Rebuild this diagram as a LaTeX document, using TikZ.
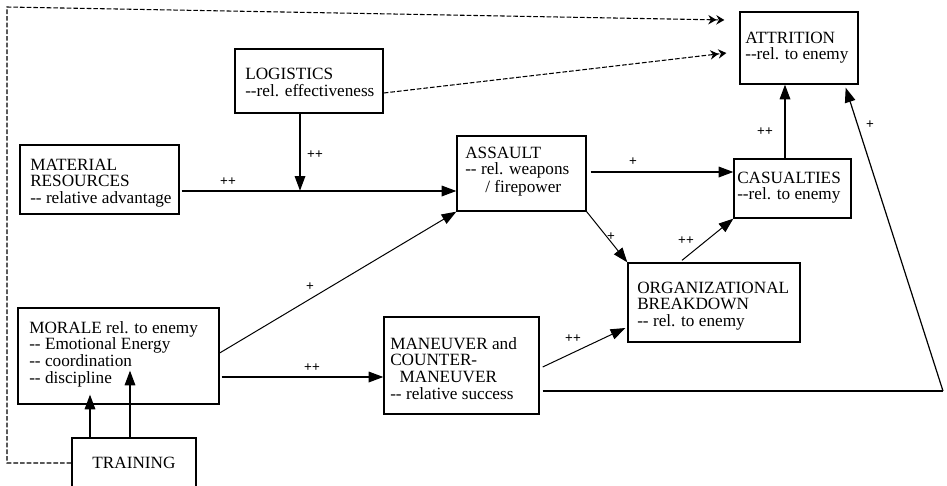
\documentclass[tikz,border=0pt]{standalone}
\usepackage{fontspec}
\setmainfont{Liberation Serif}[Ligatures=TeXOff]
\newfontfamily\boxfont{Liberation Serif}[Ligatures=TeXOff]
\newfontfamily\lblfont{Liberation Sans}[Ligatures=TeXOff]
\usetikzlibrary{arrows.meta,calc}
\begin{document}
\begin{tikzpicture}[x=0.75pt,y=-0.75pt,
  bx/.style 2 args={draw, line width=1pt, inner sep=0pt, rectangle,
    minimum width=#1*0.75pt, minimum height=#2*0.75pt},
  txt/.style={anchor=base west, inner sep=0pt, font=\boxfont\fontsize{12.9}{12.5}\selectfont},
  arr/.style={line width=0.9pt, -{Triangle[length=11pt,width=8pt]}},
  plain/.style={line width=0.9pt},
  lbl/.style={inner sep=0pt, font=\lblfont\fontsize{10}{10}\selectfont},
  dsh/.style={line width=0.8pt, dash pattern=on 3.5pt off 1.5pt,
    -{Stealth[length=6pt,width=7pt]Stealth[length=6pt,width=7pt]}},
  dshl/.style={line width=0.8pt, dash pattern=on 3.5pt off 1.5pt}]
\useasboundingbox (0,0) rectangle (947,486);
\clip (0,0) rectangle (947,486);
\fill[white] (0,0) rectangle (947,486);

% boxes
\node[bx={148}{64}] (log) at (309,81) {};
\node[bx={159}{69}] (mr) at (99.5,179.5) {};
\node[bx={118}{72}] (att) at (799,48) {};
\node[bx={129}{75}] (asl) at (521.5,173.5) {};
\node[bx={117}{59}] (cas) at (792.5,188.5) {};
\node[bx={201}{96}] (mor) at (118.5,356) {};
\node[bx={155}{97}] (man) at (461.5,365.5) {};
\node[bx={172}{79}] (org) at (714,302.5) {};
\node[bx={124}{70}] (trn) at (134,473) {};

% texts
\node[txt] (logt) at (245,79) {\begin{tabular}[t]{@{}l@{}}LOGISTICS\\--rel. effectiveness\end{tabular}};
\node[txt] (mrt) at (30,170) {\begin{tabular}[t]{@{}l@{}}MATERIAL\\RESOURCES\\-- relative advantage\end{tabular}};
\node[txt] (attt) at (745,43) {\begin{tabular}[t]{@{}l@{}}ATTRITION\\--rel. to enemy\end{tabular}};
\node[txt] (aslt) at (465,158) {\begin{tabular}[t]{@{}l@{}}ASSAULT\\-- rel. weapons\\\hspace*{15pt}/ firepower\end{tabular}};
\node[txt] (cast) at (737,183) {\begin{tabular}[t]{@{}l@{}}CASUALTIES\\--rel. to enemy\end{tabular}};
\node[txt] (mort) at (29,333) {\begin{tabular}[t]{@{}l@{}}MORALE rel. to enemy\\-- Emotional Energy\\-- coordination\\-- discipline\end{tabular}};
\node[txt] (mant) at (390,349) {\begin{tabular}[t]{@{}l@{}}MANEUVER and\\COUNTER-\\\hspace*{7pt}MANEUVER\\-- relative success\end{tabular}};
\node[txt] (orgt) at (637,293) {\begin{tabular}[t]{@{}l@{}}ORGANIZATIONAL\\BREAKDOWN\\-- rel. to enemy\end{tabular}};
\node[txt, anchor=base] (trnt) at (134,468) {TRAINING};

% connectors
\coordinate (j) at ($(log.south)+(-9,77)$);
\coordinate (rc) at (943,391);
\coordinate (dl) at (7,463);
\coordinate (dt) at (7,7);
\draw[arr] ($(mr.east)+(2,11.5)$) -- ($(asl.west)+(0,17.5)$);
\draw[arr] ($(log.south)+(-9,0)$) -- (j);
\draw[arr] ($(asl.east)+(4,-1.5)$) -- ($(cas.west)+(0,-16.5)$);
\draw[arr] ($(cas.north)+(-7.5,0)$) -- ($(att.south)+(-14,0)$);
\draw[plain] ($(man.east)+(3,25.5)$) -- (rc);
\draw[arr] (rc) -- ($(att.south east)+(-13,3)$);
\draw[arr] ($(mor.east)+(2,21)$) -- ($(man.west)+(0,11.5)$);
\draw[arr, line width=0.75pt] ($(mor.east)+(0,-3)$) -- (asl.south west);
\draw[arr, line width=0.75pt] (asl.south east) -- (org.north west);
\draw[arr, line width=0.75pt] ($(org.north)+(-32,-2)$) -- (cas.south west);
\draw[arr, line width=0.75pt] ($(man.east)+(3,1.5)$) -- ($(org.west)+(-2,25.5)$);
\draw[arr] ($(trn.north)+(-44,0)$) -- ($(mor.south)+(-28.5,-10)$);
\draw[arr] ($(trn.north)+(-4,0)$) -- ($(mor.south)+(11.5,-34)$);
\draw[dsh] ($(trn.west)+(0,-10)$) -- (dl) -- (dt) -- ($(att.west)+(-15,-28)$);
\draw[dsh] ($(log.east)+(0,12)$) -- ($(att.west)+(-13,5)$);

% labels
\node[lbl] (l1) at (228,182) {++};
\node[lbl] (l2) at (315,155) {++};
\node[lbl] (l3) at (633,162) {+};
\node[lbl] (l4) at (765,132) {++};
\node[lbl] (l5) at (870,125) {+};
\node[lbl] (l6) at (310,287) {+};
\node[lbl] (l7) at (312,368) {++};
\node[lbl] (l8) at (611,237) {+};
\node[lbl] (l9) at (686,241) {++};
\node[lbl] (l10) at (573,339) {++};
\end{tikzpicture}
\end{document}
